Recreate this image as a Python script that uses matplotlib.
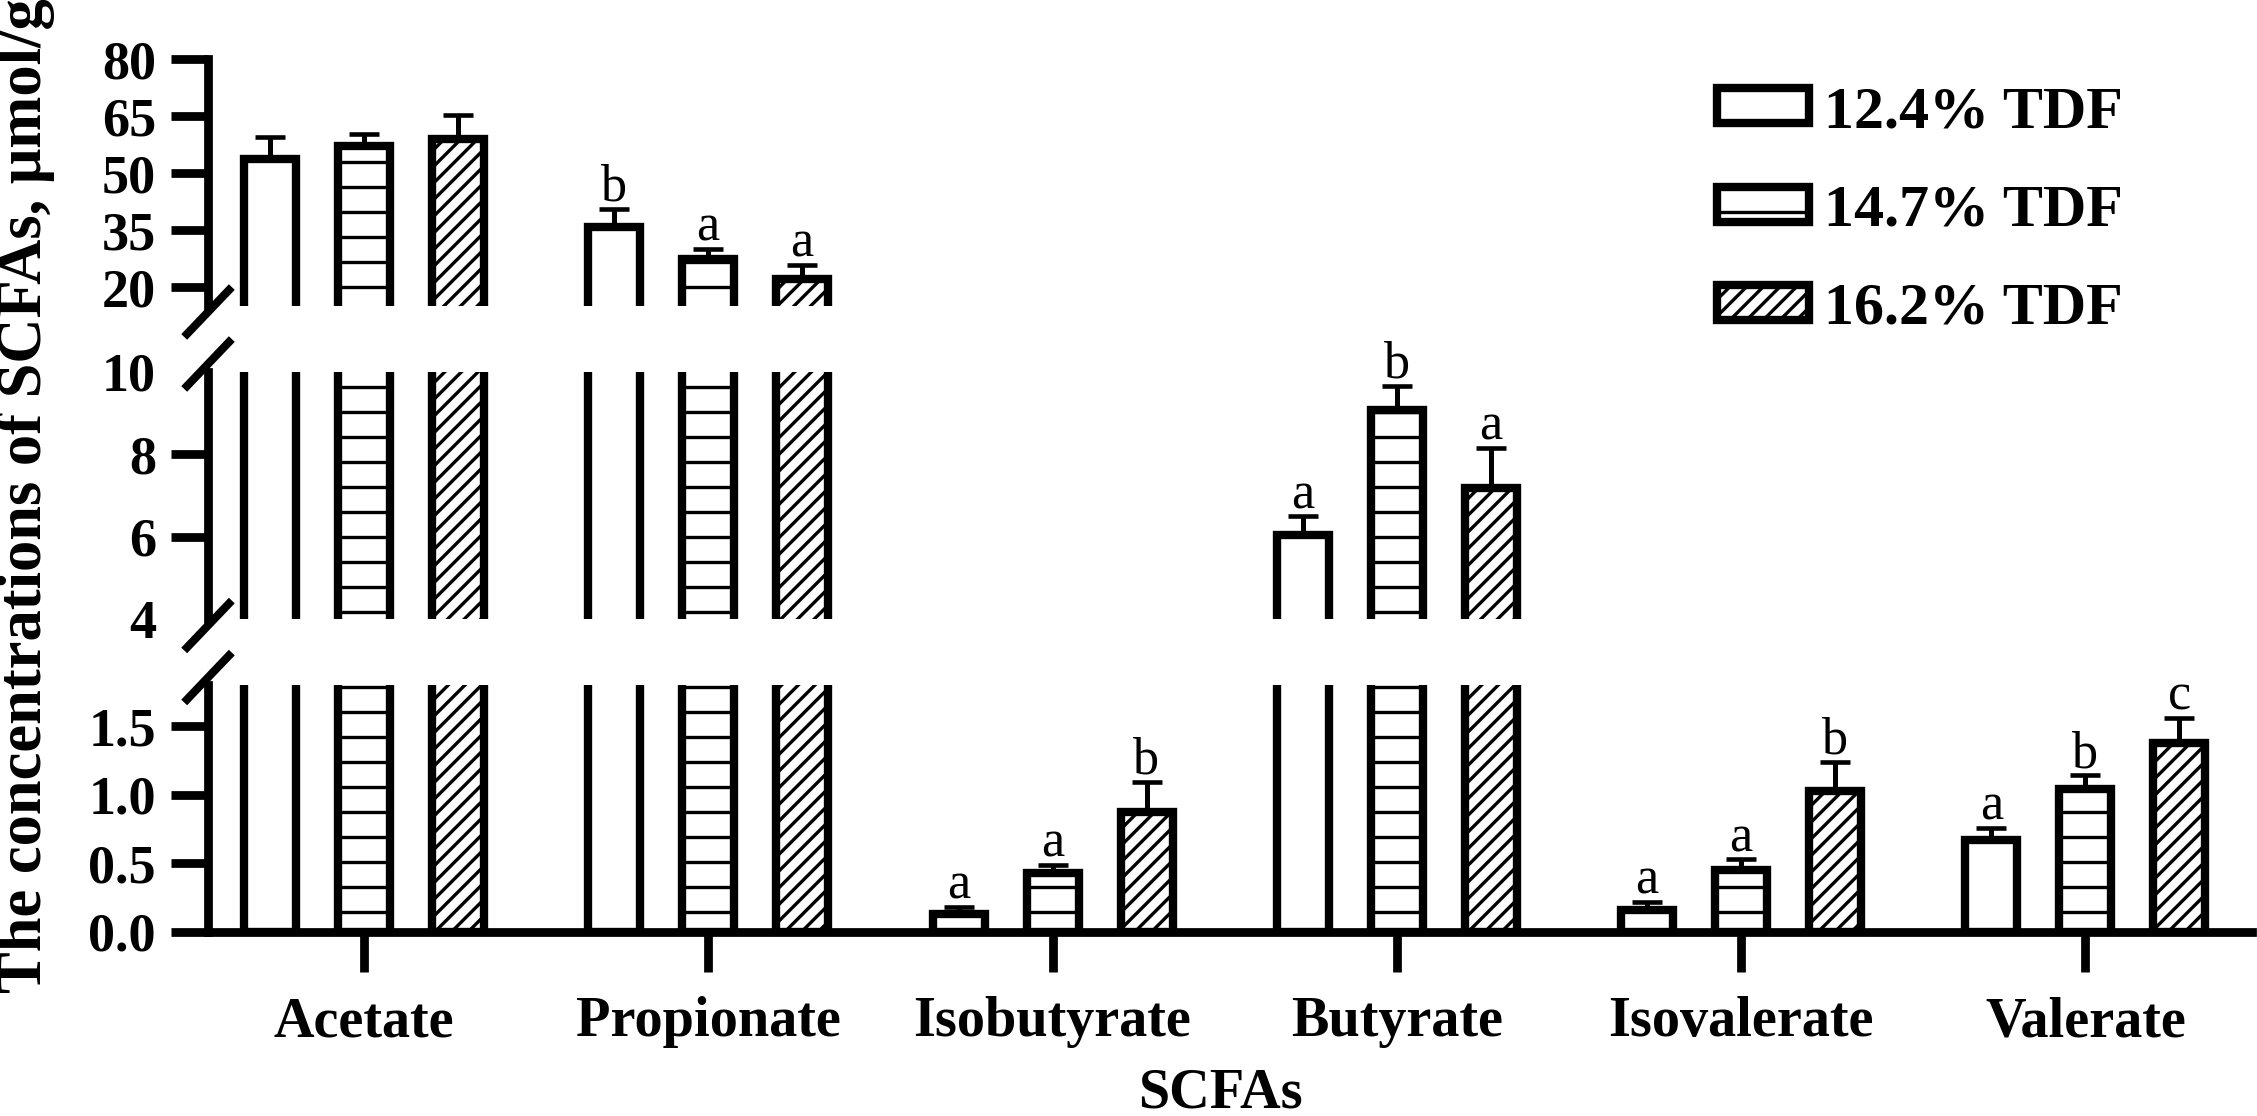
import numpy as np
import matplotlib
matplotlib.use("Agg")
import matplotlib.pyplot as plt
from matplotlib.lines import Line2D

# ---- data ----
categories = ["Acetate", "Propionate", "Isobutyrate", "Butyrate", "Isovalerate", "Valerate"]
groups = ["12.4% TDF", "14.7% TDF", "16.2% TDF"]

mean_124 = [53.8, 35.9, 0.13, 6.04, 0.16, 0.67]
sd_124 = [5.8, 4.6, 0.05, 0.45, 0.06, 0.085]
mean_147 = [57.1, 27.5, 0.43, 9.08, 0.45, 1.04]
sd_147 = [3.2, 2.6, 0.056, 0.58, 0.078, 0.10]
mean_162 = [59.1, 22.1, 0.87, 7.18, 1.03, 1.38]
sd_162 = [6.2, 3.8, 0.22, 0.98, 0.21, 0.18]

letters_124 = ["", "b", "a", "a", "a", "a"]
letters_147 = ["", "a", "a", "b", "a", "b"]
letters_162 = ["", "a", "b", "a", "b", "c"]

top_ticks = [20, 35, 50, 65, 80]
mid_ticks = [4, 6, 8, 10]
bot_ticks = [0.0, 0.5, 1.0, 1.5]

# ---- style ----
plt.rcParams["font.family"] = ["Liberation Serif", "DejaVu Serif"]
plt.rcParams["font.weight"] = "bold"
plt.rcParams["hatch.linewidth"] = 1.6
plt.rcParams["hatch.color"] = "black"

W, H = 2257, 1116
DPI = 150
fig = plt.figure(figsize=(W / DPI, H / DPI), dpi=DPI)

left = 208 / W
width = (2252 - 208) / W


def frame(top_px, bot_px):
    return [left, 1 - bot_px / H, width, (bot_px - top_px) / H]


ax_top = fig.add_axes(frame(59.3, 306))
ax_mid = fig.add_axes(frame(372, 619))
ax_bot = fig.add_axes(frame(685, 931.7))
axes = [ax_top, ax_mid, ax_bot]

ax_top.set_ylim(15, 80)
ax_mid.set_ylim(4, 10)
ax_bot.set_ylim(0, 1.8)

x = np.arange(len(categories))
offsets = [-0.273, 0.0, 0.273]
bw = 0.151
series = [
    (mean_124, sd_124, letters_124, ""),
    (mean_147, sd_147, letters_147, "-"),
    (mean_162, sd_162, letters_162, "///"),
]

SPINE_LW = 4.2
handles = []
for ax in axes:
    for (mean, sd, letters, hatch), off, lab in zip(series, offsets, groups):
        bars = ax.bar(x + off, mean, bw, facecolor="white", edgecolor="black",
                      linewidth=4.0, hatch=hatch, label=lab, zorder=2)
        ax.errorbar(x + off, mean, yerr=[np.zeros(len(sd)), sd], fmt="none",
                    ecolor="black", elinewidth=2.4, capsize=7.2, capthick=2.2,
                    zorder=3)
        if ax is ax_bot:
            handles.append(bars)
        lo, hi = ax.get_ylim()
        for xi, m, s, t in zip(x + off, mean, sd, letters):
            if t and lo <= m + s <= hi:
                ax.annotate(t, (xi, m + s), xytext=(0, 4), textcoords="offset points",
                            ha="center", va="baseline", fontsize=25,
                            fontweight="normal", annotation_clip=False)

    ax.set_xlim(-0.453, 5.484)
    ax.spines["top"].set_visible(False)
    ax.spines["right"].set_visible(False)
    ax.spines["left"].set_linewidth(SPINE_LW)
    ax.spines["bottom"].set_linewidth(SPINE_LW)
    ax.tick_params(axis="y", length=18, width=SPINE_LW, pad=7, labelsize=26,
                   direction="out")
    ax.patch.set_alpha(0)

ax_top.set_yticks(top_ticks)
ax_mid.set_yticks(mid_ticks)
ax_bot.set_yticks(bot_ticks)
ax_bot.set_yticklabels([f"{v:.1f}" for v in bot_ticks])

for ax in (ax_top, ax_mid):
    ax.spines["bottom"].set_visible(False)
    ax.set_xticks([])

for tick, v in zip(ax_mid.yaxis.get_major_ticks(), mid_ticks):
    if v in (4, 10):
        tick.tick1line.set_visible(False)

ax_bot.set_xticks(x)
ax_bot.set_xticklabels(categories)
ax_bot.tick_params(axis="x", length=19, width=SPINE_LW, pad=12, labelsize=27)

# break marks on the y axis
def brk(ax, where, dy_px):
    p = ax.get_position()
    cx = p.x0 * W
    cy = (p.y0 if where == "bottom" else p.y1) * H + dy_px
    fig.add_artist(Line2D([(cx - 21) / W, (cx + 21) / W],
                          [(cy - 22) / H, (cy + 22) / H],
                          color="black", lw=3.9, transform=fig.transFigure))

brk(ax_top, "bottom", -6)
brk(ax_mid, "top", 8)
brk(ax_mid, "bottom", -6.5)
brk(ax_bot, "top", 7.5)

# labels
fig.text(26 / W, 1 - 993 / H, "The concentrations of SCFAs, \u03bcmol/g",
         rotation=90, ha="center", va="bottom", fontsize=30, fontweight="bold")
fig.text(1220 / W, 1 - 1108 / H, "SCFAs", ha="center", va="baseline",
         fontsize=27, fontweight="bold")

fig.legend(handles, groups, loc="upper left", bbox_to_anchor=(1717 / W, 1 - 86 / H),
           frameon=False, prop={"size": 28.8, "weight": "bold"},
           handlelength=1.53, handleheight=0.52, handletextpad=0.25,
           labelspacing=0.74, borderpad=0, borderaxespad=0)

fig.savefig("out.png", dpi=DPI)
